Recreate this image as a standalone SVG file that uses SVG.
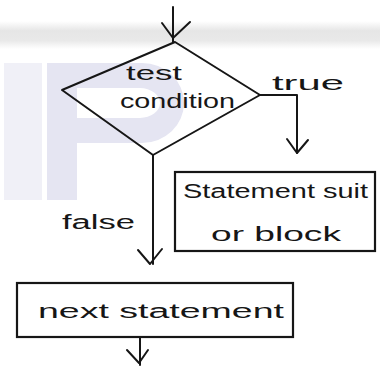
<svg xmlns="http://www.w3.org/2000/svg" width="380" height="367" viewBox="0 0 380 367">
  <defs>
    <linearGradient id="band" x1="0" y1="0" x2="0" y2="1">
      <stop offset="0" stop-color="#ffffff"/>
      <stop offset="0.35" stop-color="#e6e6e6"/>
      <stop offset="0.7" stop-color="#e9e9e9"/>
      <stop offset="1" stop-color="#ffffff"/>
    </linearGradient>
    <style>
      .ink { stroke: #161616; stroke-width: 2; fill: none; stroke-linecap: round; stroke-linejoin: round; }
      .box { stroke: #161616; stroke-width: 2.2; fill: none; }
      .hand { font-family: "Liberation Sans", "DejaVu Sans", sans-serif; font-size: 20px; fill: #161616; }
      .wm { stroke: none; }
    </style>
  </defs>

  <!-- page background -->
  <rect x="0" y="0" width="380" height="367" fill="#ffffff"/>
  <rect x="0" y="21" width="380" height="28" fill="url(#band)"/>

  <!-- faint background lettering blocks -->
  <g id="backdrop">
    <rect class="wm" x="4" y="63" width="38" height="137" fill="#f0f0f7"/>
    <path class="wm" fill="#e5e5f2" fill-rule="evenodd"
          d="M47,63 H142 A42,40 0 0 1 142,143 H77 V200 H47 Z M77,88 H140 A20,15 0 0 1 140,118 H77 Z"/>
    <path class="wm" fill="none" stroke="#eeeef7" stroke-width="26"
          d="M285,72 A72,68 0 1 0 285,192"/>
  </g>

  <!-- connectors -->
  <g id="connectors">
    <!-- entry arrow -->
    <path class="ink" d="M173,7 V42"/>
    <path class="ink" d="M162,23 L173,38 L190,22"/>
    <!-- true branch -->
    <path class="ink" d="M260,95 H297 V153"/>
    <path class="ink" d="M287,139 L297,153 L308,140"/>
    <!-- false branch -->
    <path class="ink" d="M153,155 V264"/>
    <path class="ink" d="M138,250 L150,264 L162,249"/>
    <!-- exit arrow -->
    <path class="ink" d="M140,337 V365"/>
    <path class="ink" d="M127,350 L139,363 L148,350"/>
  </g>

  <!-- decision -->
  <g id="test-condition">
    <path class="ink" d="M175,42 L260,95 L153,155 L62,90 Z"/>
    <text class="hand" x="126" y="80" textLength="56" lengthAdjust="spacingAndGlyphs">test</text>
    <text class="hand" x="120" y="108" textLength="115" lengthAdjust="spacingAndGlyphs">condition</text>
  </g>

  <!-- branch labels -->
  <g id="label-true">
    <text class="hand" x="272" y="90" textLength="72" lengthAdjust="spacingAndGlyphs">true</text>
  </g>
  <g id="label-false">
    <text class="hand" x="62" y="229" textLength="73" lengthAdjust="spacingAndGlyphs">false</text>
  </g>

  <!-- statement block -->
  <g id="statement-block">
    <rect class="box" x="175" y="172" width="200" height="79"/>
    <text class="hand" x="183" y="198" textLength="185" lengthAdjust="spacingAndGlyphs">Statement suit</text>
    <text class="hand" x="211" y="241" textLength="130" lengthAdjust="spacingAndGlyphs">or block</text>
  </g>

  <!-- next statement -->
  <g id="next-statement">
    <rect class="box" x="17" y="283" width="276" height="54"/>
    <text class="hand" x="38" y="318" textLength="246" lengthAdjust="spacingAndGlyphs">next statement</text>
  </g>
</svg>
